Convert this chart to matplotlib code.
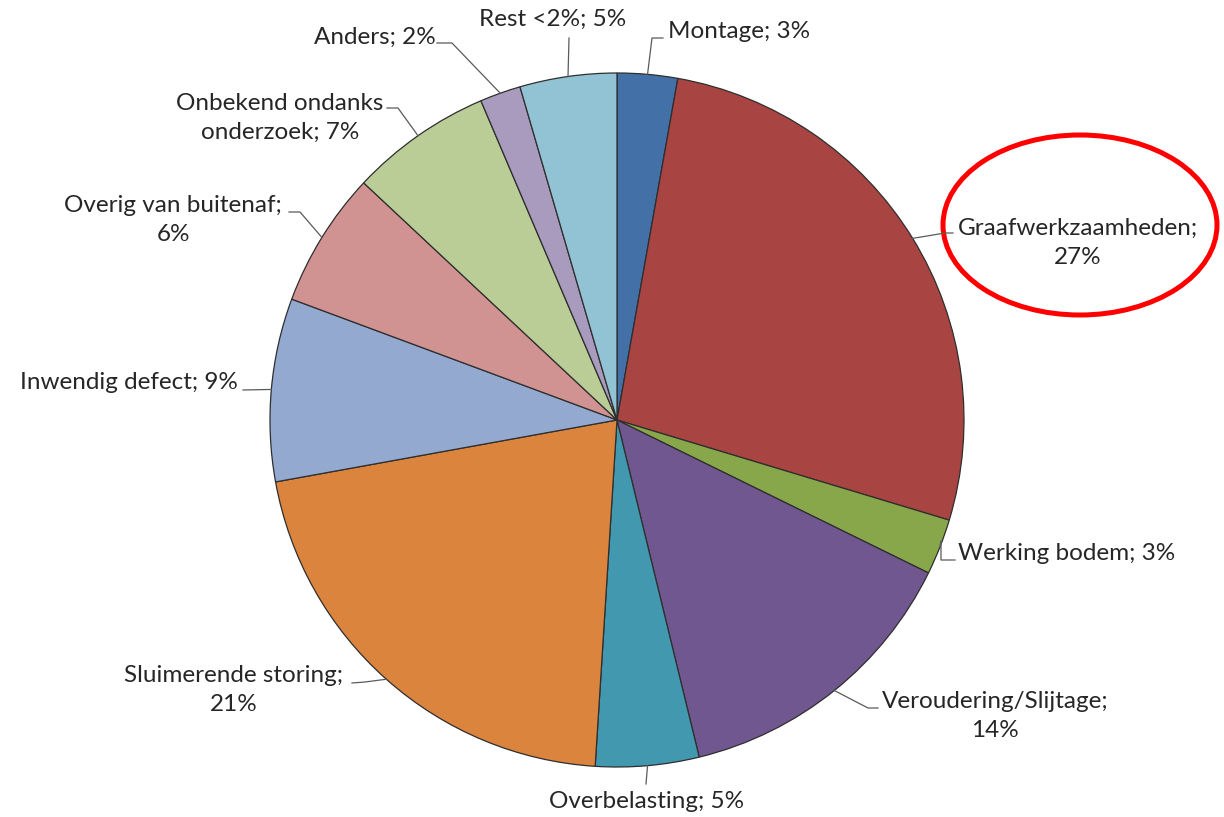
import numpy as np
import matplotlib
matplotlib.use("Agg")
import matplotlib.pyplot as plt
from matplotlib.patches import Ellipse

# slice data, clockwise from the top
labels = ["Montage", "Graafwerkzaamheden", "Werking bodem", "Veroudering/Slijtage",
          "Overbelasting", "Sluimerende storing", "Inwendig defect", "Overig van buitenaf",
          "Onbekend ondanks\nonderzoek", "Anders", "Rest <2%"]
shares = [2.8, 26.8, 2.6, 13.9, 4.8, 21.1, 8.5, 6.3, 6.6, 1.9, 4.5]
pct_text = ["3%", "27%", "3%", "14%", "5%", "21%", "9%", "6%", "7%", "2%", "5%"]
colors = ["#4470A8", "#A84442", "#88A64A", "#71578F", "#4198AF", "#DB843D",
          "#93A9D0", "#D09392", "#BACD96", "#A99BBD", "#92C3D4"]

# label layout in pixel coords: text anchor, elbow of leader, end of leader
label_fmt = ["{}; {}", "{};\n{}", "{}; {}", "{};\n{}", "{}; {}", "{};\n{}",
             "{}; {}", "{};\n{}", "{}; {}", "{}; {}", "{}; {}"]
text_pos = [(668, 31, "left"), (1078, 243, "center"), (958, 553, "left"),
            (995, 716, "center"), (647, 801, "center"), (234, 690, "center"),
            (238, 382, "right"), (173, 220, "center"), (280, 118, "center"),
            (375, 37, "center"), (553, 19, "center")]
elbows = [[(652, 38), (663, 38)], [(945, 233), (953, 233)], [(941, 541), (941, 560), (955, 560)],
          [(868, 708), (878, 708)], [(646, 784)], [(365, 682), (352, 683)],
          [(243, 390)], [(300, 212), (289, 212)], [(398, 108), (387, 108)],
          [(452, 43), (437, 43)], [(569, 38)]]

W, H = 1224, 817
center = (617, 420)
radius = 347

fig = plt.figure(figsize=(W / 100, H / 100), dpi=100)
ax = fig.add_axes([0, 0, 1, 1])
ax.set_xlim(0, W)
ax.set_ylim(H, 0)
ax.set_aspect("equal")
ax.axis("off")

wedges, _ = ax.pie(shares, colors=colors, startangle=-90, counterclock=True,
                   center=center, radius=radius,
                   wedgeprops=dict(edgecolor="#2e2e2e", linewidth=0.9))
ax.set_xlim(0, W)
ax.set_ylim(H, 0)

for i, w in enumerate(wedges):
    mid = np.deg2rad((w.theta1 + w.theta2) / 2)
    x0 = center[0] + radius * np.cos(mid)
    y0 = center[1] + radius * np.sin(mid)
    pts = [(x0, y0)] + elbows[i]
    ax.plot([p[0] for p in pts], [p[1] for p in pts], color="#5a5a5a", lw=0.9)
    tx, ty, ha = text_pos[i]
    ax.text(tx, ty, label_fmt[i].format(labels[i], pct_text[i]), ha=ha, va="center",
            multialignment="center", fontsize=17.5, family="Lato", color="#262626",
            linespacing=1.45)

ax.add_patch(Ellipse((1080, 225), 274, 180, fill=False, edgecolor="#FF0000", lw=3.6))

fig.savefig("out.png", dpi=100)
